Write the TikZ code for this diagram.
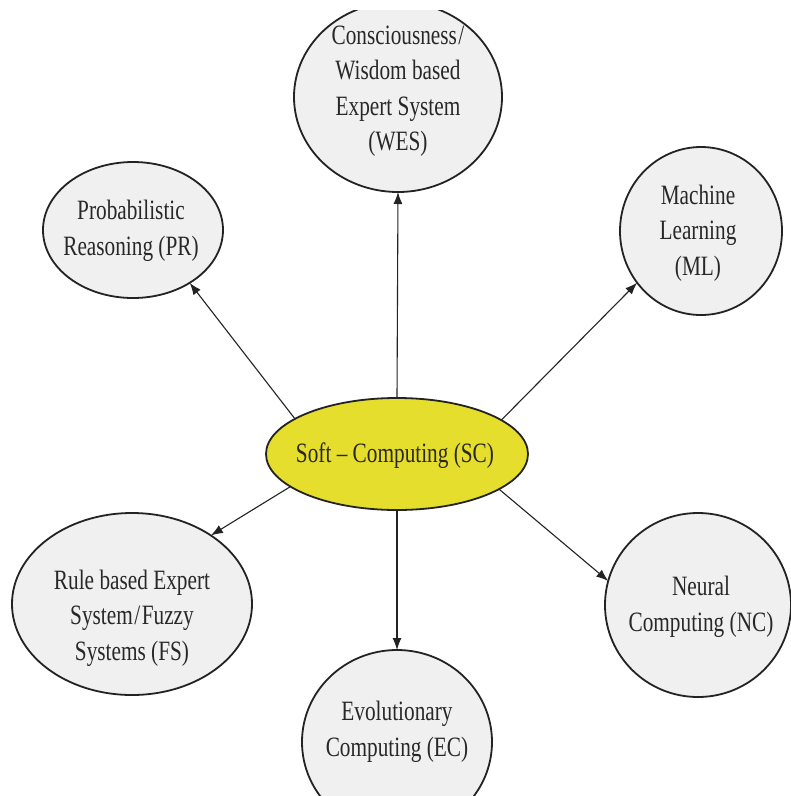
\documentclass[tikz,border=0pt]{standalone}
\usepackage{fontspec}
\setmainfont{Liberation Serif}[FakeStretch=0.76]
\usetikzlibrary{arrows.meta,shapes.geometric}
\definecolor{bubfill}{RGB}{240,240,240}
\definecolor{scyellow}{RGB}{230,222,44}
\definecolor{ink}{RGB}{35,35,35}
\definecolor{txtc}{RGB}{40,40,40}
\tikzset{
  bub/.style={ellipse, draw=ink, line width=1.8pt, fill=bubfill, inner sep=0pt, outer sep=0pt},
  txt/.style={align=center, text=txtc, font=\fontsize{28}{35.5}\selectfont, inner sep=0pt},
  conn/.style={draw=ink, line width=1.1pt, -{Latex[length=12pt,width=9pt]}}
}
\begin{document}
\begin{tikzpicture}[x=1pt,y=-1pt]
\useasboundingbox (0,0) rectangle (791,796);
\fill[white] (0,0) rectangle (791,796);
\begin{scope}
\clip (0,10) rectangle (791,796);
\node[bub, minimum width=208pt, minimum height=190pt] (wes) at (398,97) {};
\node[bub, minimum width=190pt, minimum height=184pt] (ec) at (397,742) {};
\node[bub, minimum width=186pt, minimum height=184pt] (nc) at (698,605) {};
\end{scope}
\node[bub, minimum width=180pt, minimum height=136pt] (pr) at (133,230) {};
\node[bub, minimum width=162pt, minimum height=168pt] (ml) at (701,231) {};
\node[bub, minimum width=240pt, minimum height=182pt] (fs) at (132,604) {};
\node[bub, fill=scyellow, minimum width=262pt, minimum height=112pt] (sc) at (397,454) {};

\node[txt] (west) at (398,91) {Consciousness\kern1.5pt/\\Wisdom based\\Expert System\\(WES)};
\node[txt] (prt) at (131,231) {Probabilistic\\Reasoning (PR)};
\node[txt] (mlt) at (698,233) {Machine\\Learning\\(ML)};
\node[txt] (sct) at (395,456) {Soft -- Computing (SC)};
\node[txt] (fst) at (132,618) {Rule based Expert\\System\kern1.5pt/\kern1.5pt Fuzzy\\Systems (FS)};
\node[txt] (nct) at (701,607) {Neural\\Computing (NC)};
\node[txt] (ect) at (397,732) {Evolutionary\\Computing (EC)};

\draw[conn] (sc.161) -- (pr.-43);
\draw[conn] (sc.north) -- (wes.south);
\draw[conn] (sc.18) -- (ml.219);
\draw[conn] (sc.197) -- (fs.41);
\draw[conn] (sc.south) -- (ec.north);
\draw[conn] (sc.-19) -- (nc.165);
\end{tikzpicture}
\end{document}
